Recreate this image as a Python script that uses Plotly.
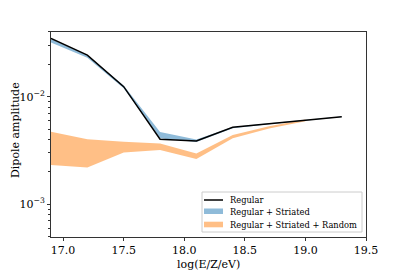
import plotly.graph_objects as go

x_reg = [16.9, 17.2, 17.5, 17.8, 18.1, 18.4, 18.7, 19.0, 19.3]
y_reg = [0.0349, 0.0244, 0.0124, 0.00402, 0.00387, 0.00519, 0.0056, 0.00608, 0.00652]

x_str = [16.9, 17.2, 17.5, 17.8, 18.1, 18.4, 18.7, 19.0, 19.3]
str_lo = [0.0320, 0.0230, 0.0120, 0.00410, 0.00380, 0.00510, 0.00555, 0.00600, 0.00648]
str_hi = [0.0345, 0.0242, 0.0127, 0.00470, 0.00400, 0.00522, 0.00565, 0.00610, 0.00655]

x_rnd = [16.9, 17.2, 17.5, 17.8, 18.1, 18.4, 18.7, 19.0]
rnd_lo = [0.00232, 0.00220, 0.00303, 0.00319, 0.00263, 0.00410, 0.00505, 0.00590]
rnd_hi = [0.00472, 0.00403, 0.00381, 0.00368, 0.00297, 0.00440, 0.00530, 0.00615]

legend_names = ["Regular", "Regular + Striated", "Regular + Striated + Random"]

xtick_vals = [17.0, 17.5, 18.0, 18.5, 19.0, 19.5]
ytick_vals = [1e-3, 1e-2]
ytick_text = ["10<sup>\u22123</sup>", "10<sup>\u22122</sup>"]

FONT = "DejaVu Serif"
ORANGE = "rgba(255,127,14,0.5)"
BLUE = "rgba(31,119,180,0.5)"

fig = go.Figure()

fig.add_trace(go.Scatter(x=x_rnd, y=rnd_lo, mode="lines", line=dict(width=0, color=ORANGE),
                         showlegend=False, hoverinfo="skip"))
fig.add_trace(go.Scatter(x=x_rnd, y=rnd_hi, mode="lines", line=dict(width=0, color=ORANGE),
                         fill="tonexty", fillcolor=ORANGE, name=legend_names[2], showlegend=False))
fig.add_trace(go.Scatter(x=x_str, y=str_lo, mode="lines", line=dict(width=0, color=BLUE),
                         showlegend=False, hoverinfo="skip"))
fig.add_trace(go.Scatter(x=x_str, y=str_hi, mode="lines", line=dict(width=0, color=BLUE),
                         fill="tonexty", fillcolor=BLUE, name=legend_names[1], showlegend=False))
fig.add_trace(go.Scatter(x=x_reg, y=y_reg, mode="lines", line=dict(width=1.5, color="black"),
                         name=legend_names[0], showlegend=False))

axis_common = dict(showline=True, linecolor="#333", linewidth=1, mirror=True, showgrid=False,
                   ticks="outside", ticklen=3, tickwidth=0.8, tickcolor="#333", zeroline=False,
                   automargin=False,
                   tickfont=dict(family=FONT, size=11, color="black"))

fig.update_xaxes(range=[16.9, 19.5], tickvals=xtick_vals, ticktext=[f"{v:.1f}" for v in xtick_vals],
                 **axis_common)
fig.update_yaxes(type="log", range=[-3.305, -1.398], tickvals=ytick_vals, ticktext=ytick_text,
                 minor=dict(ticks="outside", ticklen=2, tickwidth=0.6, tickcolor="#333",
                            tickvals=[k * 10 ** e for e in (-4, -3, -2) for k in range(2, 10)]),
                 **axis_common)

# the page body adds an 8px offset; plot area in window pixels:
L, R, T, B = 51, 366, 32, 237
OFF = 8
def px(x):
    return (x - L) / (R - L)
def py(y):
    return (B - y) / (B - T)

shapes = [
    dict(type="rect", xref="paper", yref="paper", x0=px(202), x1=px(362), y0=py(232), y1=py(192),
         line=dict(color="#cccccc", width=1), fillcolor="rgba(255,255,255,0.8)", layer="above"),
    dict(type="line", xref="paper", yref="paper", x0=px(204), x1=px(223), y0=py(200), y1=py(200),
         line=dict(color="black", width=1.5), layer="above"),
    dict(type="rect", xref="paper", yref="paper", x0=px(204), x1=px(223), y0=py(214), y1=py(208.5),
         line=dict(width=0), fillcolor=BLUE, layer="above"),
    dict(type="rect", xref="paper", yref="paper", x0=px(204), x1=px(223), y0=py(227.3), y1=py(221.7),
         line=dict(width=0), fillcolor=ORANGE, layer="above"),
]
annotations = []
for name, yy in zip(legend_names, [200, 211.5, 224.5]):
    annotations.append(dict(text=name, xref="paper", yref="paper", x=px(228), y=py(yy),
                            xanchor="left", yanchor="middle", showarrow=False,
                            font=dict(family=FONT, size=8.3, color="black")))
annotations.append(dict(text="log(E/Z/eV)", xref="paper", yref="paper", x=px(208), y=py(264),
                        xanchor="center", yanchor="middle", showarrow=False,
                        font=dict(family=FONT, size=11, color="black")))
annotations.append(dict(text="Dipole amplitude", xref="paper", yref="paper", x=px(15), y=py(130),
                        xanchor="center", yanchor="middle", showarrow=False, textangle=-90,
                        font=dict(family=FONT, size=11, color="black")))

fig.update_layout(
    width=407 - OFF, height=271 - OFF,
    margin=dict(l=L - OFF, r=407 - R, t=T - OFF, b=271 - B, autoexpand=False),
    paper_bgcolor="white", plot_bgcolor="white",
    font=dict(family=FONT, size=11, color="black"),
    shapes=shapes, annotations=annotations, showlegend=False,
)

fig.write_html("out.html")
